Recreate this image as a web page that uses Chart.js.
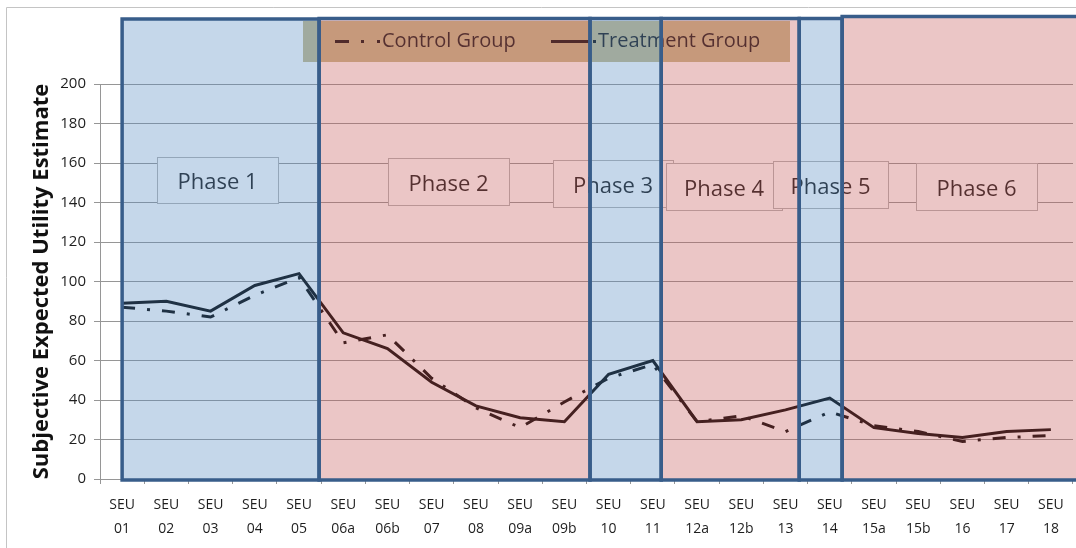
<!DOCTYPE html>
<html>
<head>
<meta charset="utf-8">
<script src="https://cdn.jsdelivr.net/npm/chart.js@4.4.0/dist/chart.umd.min.js"></script>
<style>
    body { margin: 0; background: #ffffff; }
    canvas { display: block; }
</style>
</head>
<body>
<canvas id="seuChart" width="1076" height="548"></canvas>
<script>
// Categorias (eixo x) e valores
const categories = [
    ['SEU', '01'], ['SEU', '02'], ['SEU', '03'], ['SEU', '04'], ['SEU', '05'],
    ['SEU', '06a'], ['SEU', '06b'], ['SEU', '07'], ['SEU', '08'], ['SEU', '09a'], ['SEU', '09b'],
    ['SEU', '10'], ['SEU', '11'], ['SEU', '12a'], ['SEU', '12b'], ['SEU', '13'], ['SEU', '14'],
    ['SEU', '15a'], ['SEU', '15b'], ['SEU', '16'], ['SEU', '17'], ['SEU', '18']
];
const controlValues = [87, 85, 82, 93, 102, 69, 73, 51, 36, 26, 39, 51, 58, 29, 32, 24, 34, 27, 24, 19, 21, 22];
const treatmentValues = [89, 90, 85, 98, 104, 74, 66, 49, 37, 31, 29, 53, 60, 29, 30, 35, 41, 26, 23, 21, 24, 25];
const yTicks = [0, 20, 40, 60, 80, 100, 120, 140, 160, 180, 200];
const phaseNames = ['Phase 1', 'Phase 2', 'Phase 3', 'Phase 4', 'Phase 5', 'Phase 6'];

const FONT = '"Open Sans", "DejaVu Sans", sans-serif';
const CONTROL_DASH = [13, 12, 3, 12];

// Retângulos das fases (em índices de categoria) e caixas de texto
const phaseSpans = [[0, 4.454], [4.454, 10.58], [10.58, 12.19], [12.19, 15.31], [15.31, 16.28], [16.28, 21.62]];
const phaseTops = [19, 18.5, 18.5, 18.5, 18.5, 16.5];
const phaseTint = ['rgba(90,141,195,0.35)', 'rgba(198,92,92,0.35)', 'rgba(90,141,195,0.35)',
                   'rgba(198,92,92,0.35)', 'rgba(90,141,195,0.35)', 'rgba(198,92,92,0.35)'];
const phaseBoxes = [
    { x: 157, y: 157, w: 121, h: 46 },
    { x: 388, y: 158, w: 121, h: 47 },
    { x: 553, y: 160, w: 120, h: 47 },
    { x: 666, y: 163, w: 116, h: 47 },
    { x: 773, y: 161, w: 115, h: 47 },
    { x: 916, y: 163, w: 121, h: 47 }
];

const phasePlugin = {
    id: 'phases',
    beforeDraw(chart) {
        const ctx = chart.ctx;
        ctx.save();
        ctx.strokeStyle = '#c4c4c4';
        ctx.lineWidth = 1;
        ctx.beginPath();
        ctx.moveTo(6.5, 548);
        ctx.lineTo(6.5, 7.5);
        ctx.lineTo(1076, 7.5);
        ctx.stroke();
        ctx.restore();
    },
    afterDatasetsDraw(chart) {
        const ctx = chart.ctx;
        const x = chart.scales.x;
        const area = chart.chartArea;
        const ds = chart.data.datasets;
        ctx.save();

        // Legenda
        ctx.fillStyle = '#c6ba8d';
        ctx.fillRect(303, 21, 487, 41);
        ctx.fillStyle = '#111111';
        ctx.fillRect(335, 40, 14, 3);
        ctx.fillRect(361, 40, 3, 3);
        ctx.fillRect(377, 40, 3, 3);
        ctx.fillRect(551, 40, 38, 3);
        ctx.fillRect(593, 40, 3, 3);
        ctx.font = '20px ' + FONT;
        ctx.textBaseline = 'middle';
        ctx.fillStyle = '#1a1a1a';
        ctx.fillText(ds[0].label, 382, 41);
        ctx.fillText(ds[1].label, 598, 41);

        // Caixas de texto das fases
        ctx.font = '22px ' + FONT;
        ctx.textAlign = 'center';
        phaseBoxes.forEach((b, i) => {
            ctx.fillStyle = '#ffffff';
            ctx.fillRect(b.x, b.y, b.w, b.h);
            ctx.strokeStyle = '#b4b4b4';
            ctx.lineWidth = 1;
            ctx.strokeRect(b.x + 0.5, b.y + 0.5, b.w, b.h);
            ctx.fillStyle = '#1a1a1a';
            ctx.fillText(phaseNames[i], b.x + b.w / 2, b.y + b.h / 2 + 3);
        });

        // Sobreposição translúcida das fases
        const bottom = area.bottom + 1;
        phaseSpans.forEach((s, i) => {
            const x0 = x.getPixelForValue(s[0]);
            const x1 = x.getPixelForValue(s[1]);
            ctx.fillStyle = phaseTint[i];
            ctx.fillRect(x0, phaseTops[i], x1 - x0, bottom - phaseTops[i]);
        });
        ctx.strokeStyle = '#385d8a';
        ctx.lineWidth = 3.5;
        phaseSpans.forEach((s, i) => {
            const x0 = x.getPixelForValue(s[0]);
            const x1 = x.getPixelForValue(s[1]);
            ctx.strokeRect(x0, phaseTops[i], x1 - x0, bottom - phaseTops[i]);
        });
        ctx.restore();
    }
};

const ctx = document.getElementById('seuChart').getContext('2d');
new Chart(ctx, {
    type: 'line',
    data: {
        labels: categories,
        datasets: [{
            label: 'Control Group',
            data: controlValues,
            borderColor: '#000000',
            borderWidth: 3,
            borderDash: CONTROL_DASH,
            pointRadius: 0,
            tension: 0,
            fill: false
        }, {
            label: 'Treatment Group',
            data: treatmentValues,
            borderColor: '#000000',
            borderWidth: 3,
            pointRadius: 0,
            tension: 0,
            fill: false
        }]
    },
    options: {
        responsive: false,
        animation: false,
        layout: { padding: { top: 84, left: 0, right: 3, bottom: 0 } },
        plugins: {
            legend: { display: false },
            tooltip: { enabled: false }
        },
        scales: {
            x: {
                offset: true,
                grid: { drawOnChartArea: false, color: '#969696', tickLength: 5, offset: true },
                border: { color: '#969696' },
                ticks: {
                    color: '#1e1e1e',
                    font: { family: FONT, size: 14, lineHeight: 1.7 },
                    padding: 9,
                    maxRotation: 0,
                    autoSkip: false
                },
                afterFit(scale) { scale.height = 69; }
            },
            y: {
                min: 0,
                max: 200,
                afterBuildTicks(scale) { scale.ticks = yTicks.map(v => ({ value: v })); },
                grid: { color: '#969696', tickLength: 6 },
                border: { color: '#969696' },
                ticks: {
                    color: '#1e1e1e',
                    font: { family: FONT, size: 15 },
                    padding: 8
                },
                title: {
                    display: true,
                    text: 'Subjective Expected Utility Estimate',
                    color: '#111111',
                    font: { family: FONT, size: 22, weight: 'bold' },
                    padding: { top: 29, bottom: 0 }
                },
                afterFit(scale) { scale.width = 100; }
            }
        }
    },
    plugins: [phasePlugin]
});
</script>
</body>
</html>
